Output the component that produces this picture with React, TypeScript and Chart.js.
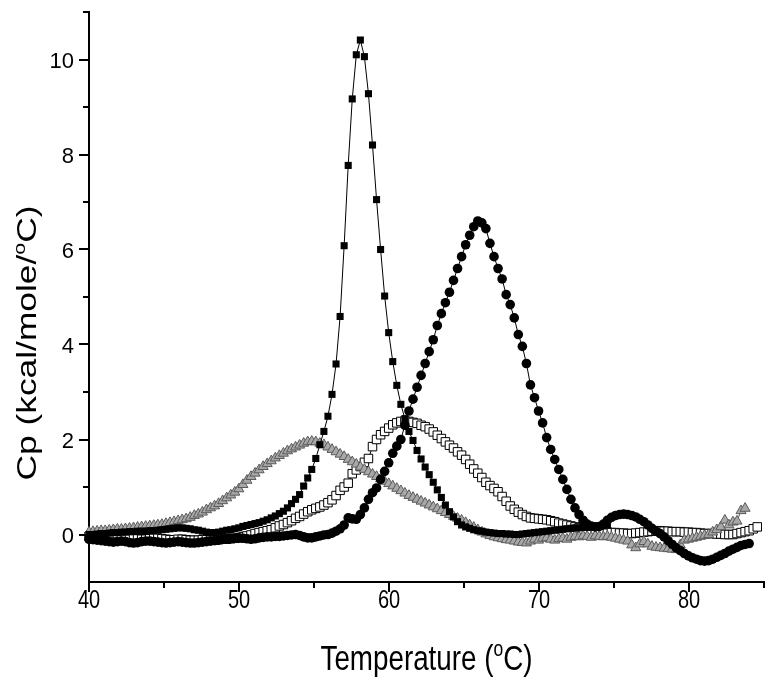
import React, { useEffect, useRef } from "react";
import { Chart, registerables } from "chart.js";

Chart.register(...registerables);

// Temperature grid (°C)
const temperature = [
  40.0, 40.27, 40.54, 40.81, 41.08, 41.35, 41.62, 41.89, 42.16, 42.43,
  42.7, 42.97, 43.24, 43.51, 43.78, 44.05, 44.32, 44.59, 44.86, 45.13,
  45.4, 45.67, 45.94, 46.21, 46.48, 46.75, 47.02, 47.29, 47.56, 47.83,
  48.1, 48.37, 48.64, 48.91, 49.18, 49.45, 49.72, 49.99, 50.26, 50.53,
  50.8, 51.07, 51.34, 51.61, 51.88, 52.15, 52.42, 52.69, 52.96, 53.23,
  53.5, 53.77, 54.04, 54.31, 54.58, 54.85, 55.12, 55.39, 55.66, 55.93,
  56.2, 56.47, 56.74, 57.01, 57.28, 57.55, 57.82, 58.09, 58.36, 58.63,
  58.9, 59.17, 59.44, 59.71, 59.98, 60.25, 60.52, 60.79, 61.06, 61.33,
  61.6, 61.87, 62.14, 62.41, 62.68, 62.95, 63.22, 63.49, 63.76, 64.03,
  64.3, 64.57, 64.84, 65.11, 65.38, 65.65, 65.92, 66.19, 66.46, 66.73,
  67.0, 67.27, 67.54, 67.81, 68.08, 68.35, 68.62, 68.89, 69.16, 69.43,
  69.7, 69.97, 70.24, 70.51, 70.78, 71.05, 71.32, 71.59, 71.86, 72.13,
  72.4, 72.67, 72.94, 73.21, 73.48, 73.75, 74.02, 74.29, 74.56, 74.83,
  75.1, 75.37, 75.64, 75.91, 76.18, 76.45, 76.72, 76.99, 77.26, 77.53,
  77.8, 78.07, 78.34, 78.61, 78.88, 79.15, 79.42, 79.69, 79.96, 80.23,
  80.5, 80.77, 81.04, 81.31, 81.58, 81.85, 82.12, 82.39, 82.66, 82.93,
  83.2, 83.47, 83.74, 84.01, 84.28, 84.55, 84.82,
];

// Series 1: filled squares
const filledSquares = [
  0.0, 0.0, 0.01, 0.02, 0.02, 0.03, 0.04, 0.04, 0.05, 0.05,
  0.06, 0.06, 0.07, 0.07, 0.07, 0.08, 0.08, 0.09, 0.1, 0.11,
  0.12, 0.13, 0.14, 0.14, 0.13, 0.12, 0.1, 0.09, 0.07, 0.05,
  0.04, 0.04, 0.05, 0.07, 0.09, 0.1, 0.12, 0.14, 0.17, 0.19,
  0.21, 0.23, 0.25, 0.28, 0.31, 0.35, 0.39, 0.44, 0.49, 0.56,
  0.65, 0.74, 0.84, 1.02, 1.19, 1.37, 1.6, 1.89, 2.17, 2.49,
  2.95, 3.59, 4.59, 6.08, 7.77, 9.17, 10.1, 10.41, 10.06, 9.28,
  8.2, 7.05, 6.0, 5.02, 4.25, 3.64, 3.14, 2.74, 2.44, 2.17,
  1.98, 1.77, 1.59, 1.42, 1.26, 1.1, 0.94, 0.78, 0.62, 0.48,
  0.37, 0.27, 0.2, 0.16, 0.13, 0.1, 0.08, 0.07, 0.05, 0.04,
  0.03, 0.02, 0.02, 0.01, 0.01, 0.0, 0.0, 0.01, 0.02, 0.03,
  0.04, 0.05, 0.06, 0.07, 0.08, 0.09, 0.1, 0.11, 0.12, 0.13,
  0.14, 0.14, 0.15, 0.15, 0.16, 0.16, 0.17, 0.18, 0.2, null,
  null, null, null, null, null, null, null, null, null, null,
  null, null, null, null, null, null, null, null, null, null,
  null, null, null, null, null, null, null, null, null, null,
  null, null, null, null, null, null, null,
];

// Series 2: filled circles
const filledCircles = [
  -0.1, -0.11, -0.12, -0.13, -0.14, -0.15, -0.16, -0.15, -0.14, -0.15,
  -0.17, -0.18, -0.17, -0.15, -0.14, -0.14, -0.15, -0.16, -0.17, -0.18,
  -0.17, -0.16, -0.15, -0.16, -0.17, -0.18, -0.18, -0.17, -0.16, -0.15,
  -0.14, -0.13, -0.12, -0.1, -0.09, -0.08, -0.08, -0.07, -0.08, -0.09,
  -0.1, -0.09, -0.07, -0.06, -0.05, -0.05, -0.04, -0.04, -0.03, -0.02,
  -0.01, 0.0, -0.02, -0.05, -0.07, -0.07, -0.05, -0.03, -0.01, 0.0,
  0.03, 0.07, 0.12, 0.2, 0.35, 0.33, 0.32, 0.42, 0.56, 0.74,
  0.88, 0.98, 1.16, 1.33, 1.51, 1.71, 1.86, 2.0, 2.3, 2.6,
  2.85, 3.1, 3.35, 3.6, 3.85, 4.1, 4.4, 4.65, 4.88, 5.1,
  5.35, 5.6, 5.85, 6.1, 6.3, 6.48, 6.6, 6.56, 6.44, 6.13,
  5.85, 5.6, 5.38, 5.05, 4.84, 4.56, 4.21, 3.96, 3.6, 3.15,
  2.88, 2.6, 2.35, 2.04, 1.79, 1.58, 1.37, 1.16, 0.95, 0.74,
  0.56, 0.42, 0.3, 0.22, 0.18, 0.16, 0.17, 0.22, 0.3, 0.36,
  0.4, 0.42, 0.43, 0.42, 0.4, 0.37, 0.32, 0.27, 0.2, 0.13,
  0.07, 0.02, -0.05, -0.13, -0.21, -0.28, -0.34, -0.4, -0.45, -0.49,
  -0.52, -0.55, -0.56, -0.55, -0.52, -0.48, -0.44, -0.4, -0.35, -0.31,
  -0.27, -0.23, -0.21, -0.19, null, null, null,
];

// Series 3: open squares
const openSquares = [
  -0.04, -0.05, -0.06, -0.07, -0.08, -0.09, -0.09, -0.1, -0.1, -0.09,
  -0.08, -0.08, -0.09, -0.1, -0.1, -0.09, -0.08, -0.08, -0.09, -0.1,
  -0.11, -0.11, -0.1, -0.1, -0.11, -0.12, -0.12, -0.12, -0.11, -0.11,
  -0.12, -0.12, -0.11, -0.1, -0.1, -0.09, -0.08, -0.07, -0.05, -0.03,
  -0.01, 0.02, 0.04, 0.06, 0.08, 0.1, 0.14, 0.18, 0.21, 0.25,
  0.29, 0.34, 0.38, 0.43, 0.48, 0.52, 0.55, 0.58, 0.62, 0.67,
  0.73, 0.82, 0.93, 1.0, 1.08, 1.28, 1.36, 1.43, 1.52, 1.6,
  1.85, 2.0, 2.1, 2.17, 2.24, 2.31, 2.35, 2.38, 2.39, 2.38,
  2.36, 2.34, 2.3, 2.27, 2.22, 2.16, 2.09, 2.02, 1.95, 1.88,
  1.82, 1.74, 1.67, 1.58, 1.48, 1.38, 1.29, 1.2, 1.1, 1.03,
  0.97, 0.9, 0.8, 0.7, 0.6, 0.53, 0.47, 0.42, 0.38, 0.35,
  0.34, 0.33, 0.32, 0.31, 0.29, 0.27, 0.24, 0.22, 0.2, 0.18,
  0.16, 0.14, 0.11, 0.09, 0.08, 0.07, 0.06, 0.05, 0.05, 0.04,
  0.04, 0.03, 0.03, 0.02, 0.02, 0.03, 0.04, 0.05, 0.06, 0.07,
  0.08, 0.08, 0.07, 0.07, 0.06, 0.06, 0.06, 0.05, 0.05, 0.04,
  0.04, 0.03, 0.02, 0.02, 0.02, 0.01, 0.01, 0.0, 0.0, 0.0,
  0.02, 0.04, 0.06, 0.08, 0.12, 0.16, null,
];

// Series 4: gray triangles
const grayTriangles = [
  0.05, 0.06, 0.07, 0.08, 0.08, 0.09, 0.1, 0.11, 0.11, 0.12,
  0.13, 0.14, 0.15, 0.16, 0.17, 0.18, 0.19, 0.2, 0.21, 0.23,
  0.25, 0.27, 0.29, 0.31, 0.33, 0.36, 0.4, 0.43, 0.47, 0.52,
  0.56, 0.6, 0.65, 0.71, 0.77, 0.83, 0.89, 0.96, 1.05, 1.14,
  1.22, 1.29, 1.36, 1.43, 1.49, 1.55, 1.61, 1.66, 1.71, 1.76,
  1.8, 1.84, 1.88, 1.92, 1.95, 1.96, 1.95, 1.92, 1.89, 1.84,
  1.79, 1.74, 1.69, 1.64, 1.58, 1.53, 1.48, 1.42, 1.37, 1.32,
  1.27, 1.22, 1.17, 1.12, 1.07, 1.02, 0.97, 0.92, 0.87, 0.82,
  0.78, 0.74, 0.7, 0.66, 0.62, 0.58, 0.54, 0.5, 0.46, 0.42,
  0.38, 0.34, 0.3, 0.25, 0.2, 0.15, 0.1, 0.05, 0.01, -0.02,
  -0.05, -0.07, -0.09, -0.11, -0.12, -0.14, -0.16, -0.17, -0.18, -0.14,
  -0.1, -0.12, -0.08, -0.07, -0.1, -0.12, -0.09, -0.08, -0.1, -0.06,
  -0.04, -0.05, -0.03, -0.04, -0.06, -0.03, -0.04, -0.05, -0.04, -0.06,
  -0.08, -0.1, -0.12, -0.14, -0.22, -0.28, -0.2, -0.15, -0.2, -0.25,
  -0.27, -0.28, -0.29, -0.3, -0.31, -0.32, -0.22, -0.12, -0.1, -0.08,
  -0.06, -0.04, -0.02, 0.0, 0.05, 0.1, 0.16, 0.3, 0.2, 0.26,
  0.28, 0.5, 0.55, null, null, null, null,
];

const xMajorTicks = [40, 50, 60, 70, 80];
const xMinorTicks = [45, 55, 65, 75, 85];
const yMajorTicks = [0, 2, 4, 6, 8, 10];
const yMinorTicks = [1, 3, 5, 7, 9, 11];
const xTitleParts = ["Temperature (", "o", "C)"];
const yTitleParts = ["Cp (kcal/mole/", "o", "C)"];

const FONT = "'Liberation Sans', Arial, Helvetica, sans-serif";

function drawTitle(
  ctx: CanvasRenderingContext2D,
  parts: string[],
  x: number,
  y: number,
  size: number,
  targetWidth: number,
  sy: number,
  angle: number
) {
  const supSize = Math.round(size * 0.62);
  ctx.save();
  ctx.translate(x, y);
  ctx.rotate(angle);
  ctx.textAlign = "left";
  ctx.textBaseline = "alphabetic";
  ctx.font = `${size}px ${FONT}`;
  const w0 = ctx.measureText(parts[0]).width;
  const w2 = ctx.measureText(parts[2]).width;
  ctx.font = `${supSize}px ${FONT}`;
  const w1 = ctx.measureText(parts[1]).width;
  const total = w0 + w1 + w2;
  const sx = targetWidth / total;
  ctx.scale(sx, sy);
  let cur = -total / 2;
  ctx.font = `${size}px ${FONT}`;
  ctx.fillText(parts[0], cur, 0);
  cur += w0;
  ctx.font = `${supSize}px ${FONT}`;
  ctx.fillText(parts[1], cur, -size * 0.4);
  cur += w1;
  ctx.font = `${size}px ${FONT}`;
  ctx.fillText(parts[2], cur, 0);
  ctx.restore();
}

const axisDecor = {
  id: "axisDecor",
  afterDraw(chart: any) {
    const ctx: CanvasRenderingContext2D = chart.ctx;
    const area = chart.chartArea;
    const xs = chart.scales.x;
    const ys = chart.scales.y;
    const L = area.left;
    const B = area.bottom;
    ctx.save();
    ctx.strokeStyle = "#000";
    ctx.lineWidth = 2;
    ctx.beginPath();
    yMajorTicks.forEach((v) => {
      const y = Math.round(ys.getPixelForValue(v));
      ctx.moveTo(L - 10, y);
      ctx.lineTo(L, y);
    });
    yMinorTicks.forEach((v) => {
      const y = Math.round(ys.getPixelForValue(v));
      ctx.moveTo(L - 6, y);
      ctx.lineTo(L, y);
    });
    xMajorTicks.forEach((v) => {
      const x = Math.round(xs.getPixelForValue(v));
      ctx.moveTo(x, B);
      ctx.lineTo(x, B + 10);
    });
    xMinorTicks.forEach((v) => {
      const x = Math.min(Math.round(xs.getPixelForValue(v)), chart.width - 1);
      ctx.moveTo(x, B);
      ctx.lineTo(x, B + 6);
    });
    ctx.stroke();

    ctx.fillStyle = "#000";
    ctx.textBaseline = "alphabetic";
    ctx.textAlign = "right";
    ctx.font = `22px ${FONT}`;
    yMajorTicks.forEach((v) => {
      ctx.fillText(String(v), L - 15, ys.getPixelForValue(v) + 8);
    });

    ctx.textAlign = "center";
    ctx.font = `20px ${FONT}`;
    xMajorTicks.forEach((v) => {
      ctx.save();
      ctx.translate(xs.getPixelForValue(v), B + 26);
      ctx.scale(1, 1.28);
      ctx.fillText(String(v), 0, 0);
      ctx.restore();
    });

    drawTitle(ctx, xTitleParts, (area.left + area.right) / 2, 670, 27, 212, 1.3, 0);
    drawTitle(ctx, yTitleParts, 36, 343, 28, 275, 1, -Math.PI / 2);
    ctx.restore();
  },
};

export default function App() {
  const ref = useRef<HTMLCanvasElement | null>(null);

  useEffect(() => {
    document.body.style.margin = "0";
    const canvas = ref.current;
    if (!canvas) return;
    const mk = (arr: (number | null)[]) =>
      temperature.map((t, i) => ({ x: t, y: arr[i] }));

    const chart = new Chart(canvas, {
      type: "line",
      data: {
        datasets: [
          {
            label: "filled squares",
            data: mk(filledSquares),
            borderColor: "#000",
            borderWidth: 1,
            pointStyle: "rect",
            pointRadius: 5,
            pointBackgroundColor: "#000",
            pointBorderColor: "#000",
            pointBorderWidth: 0,
            clip: false,
          },
          {
            label: "filled circles",
            data: mk(filledCircles),
            borderColor: "#000",
            borderWidth: 1,
            pointStyle: "circle",
            pointRadius: 4.8,
            pointBackgroundColor: "#000",
            pointBorderColor: "#000",
            pointBorderWidth: 0,
            clip: false,
          },
          {
            label: "triangles",
            data: mk(grayTriangles),
            borderColor: "#555",
            borderWidth: 1,
            pointStyle: "triangle",
            pointRadius: 5.8,
            pointBackgroundColor: "#a8a8a8",
            pointBorderColor: "#5a5a5a",
            pointBorderWidth: 1,
            clip: false,
          },
          {
            label: "open squares",
            data: mk(openSquares),
            borderColor: "#000",
            borderWidth: 1,
            pointStyle: "rect",
            pointRadius: 6,
            pointBackgroundColor: "#fff",
            pointBorderColor: "#000",
            pointBorderWidth: 1,
            clip: false,
          },
        ],
      },
      options: {
        animation: false,
        responsive: false,
        devicePixelRatio: 1,
        layout: { autoPadding: false, padding: { top: 12, right: 1, left: 0, bottom: 0 } },
        plugins: { legend: { display: false }, tooltip: { enabled: false } },
        elements: { line: { tension: 0 } },
        scales: {
          x: {
            type: "linear",
            min: 40,
            max: 85,
            grid: { display: false },
            border: { display: true, color: "#000", width: 2 },
            ticks: { display: false },
            afterFit: (s: any) => {
              s.height = 101;
            },
          },
          y: {
            type: "linear",
            min: -1,
            max: 11,
            grid: { display: false },
            border: { display: true, color: "#000", width: 2 },
            ticks: { display: false },
            afterFit: (s: any) => {
              s.width = 89;
            },
          },
        },
      },
      plugins: [axisDecor],
    } as any);

    return () => chart.destroy();
  }, []);

  return (
    <canvas
      ref={ref}
      width={765}
      height={683}
      style={{ display: "block", width: 765, height: 683 }}
    />
  );
}
